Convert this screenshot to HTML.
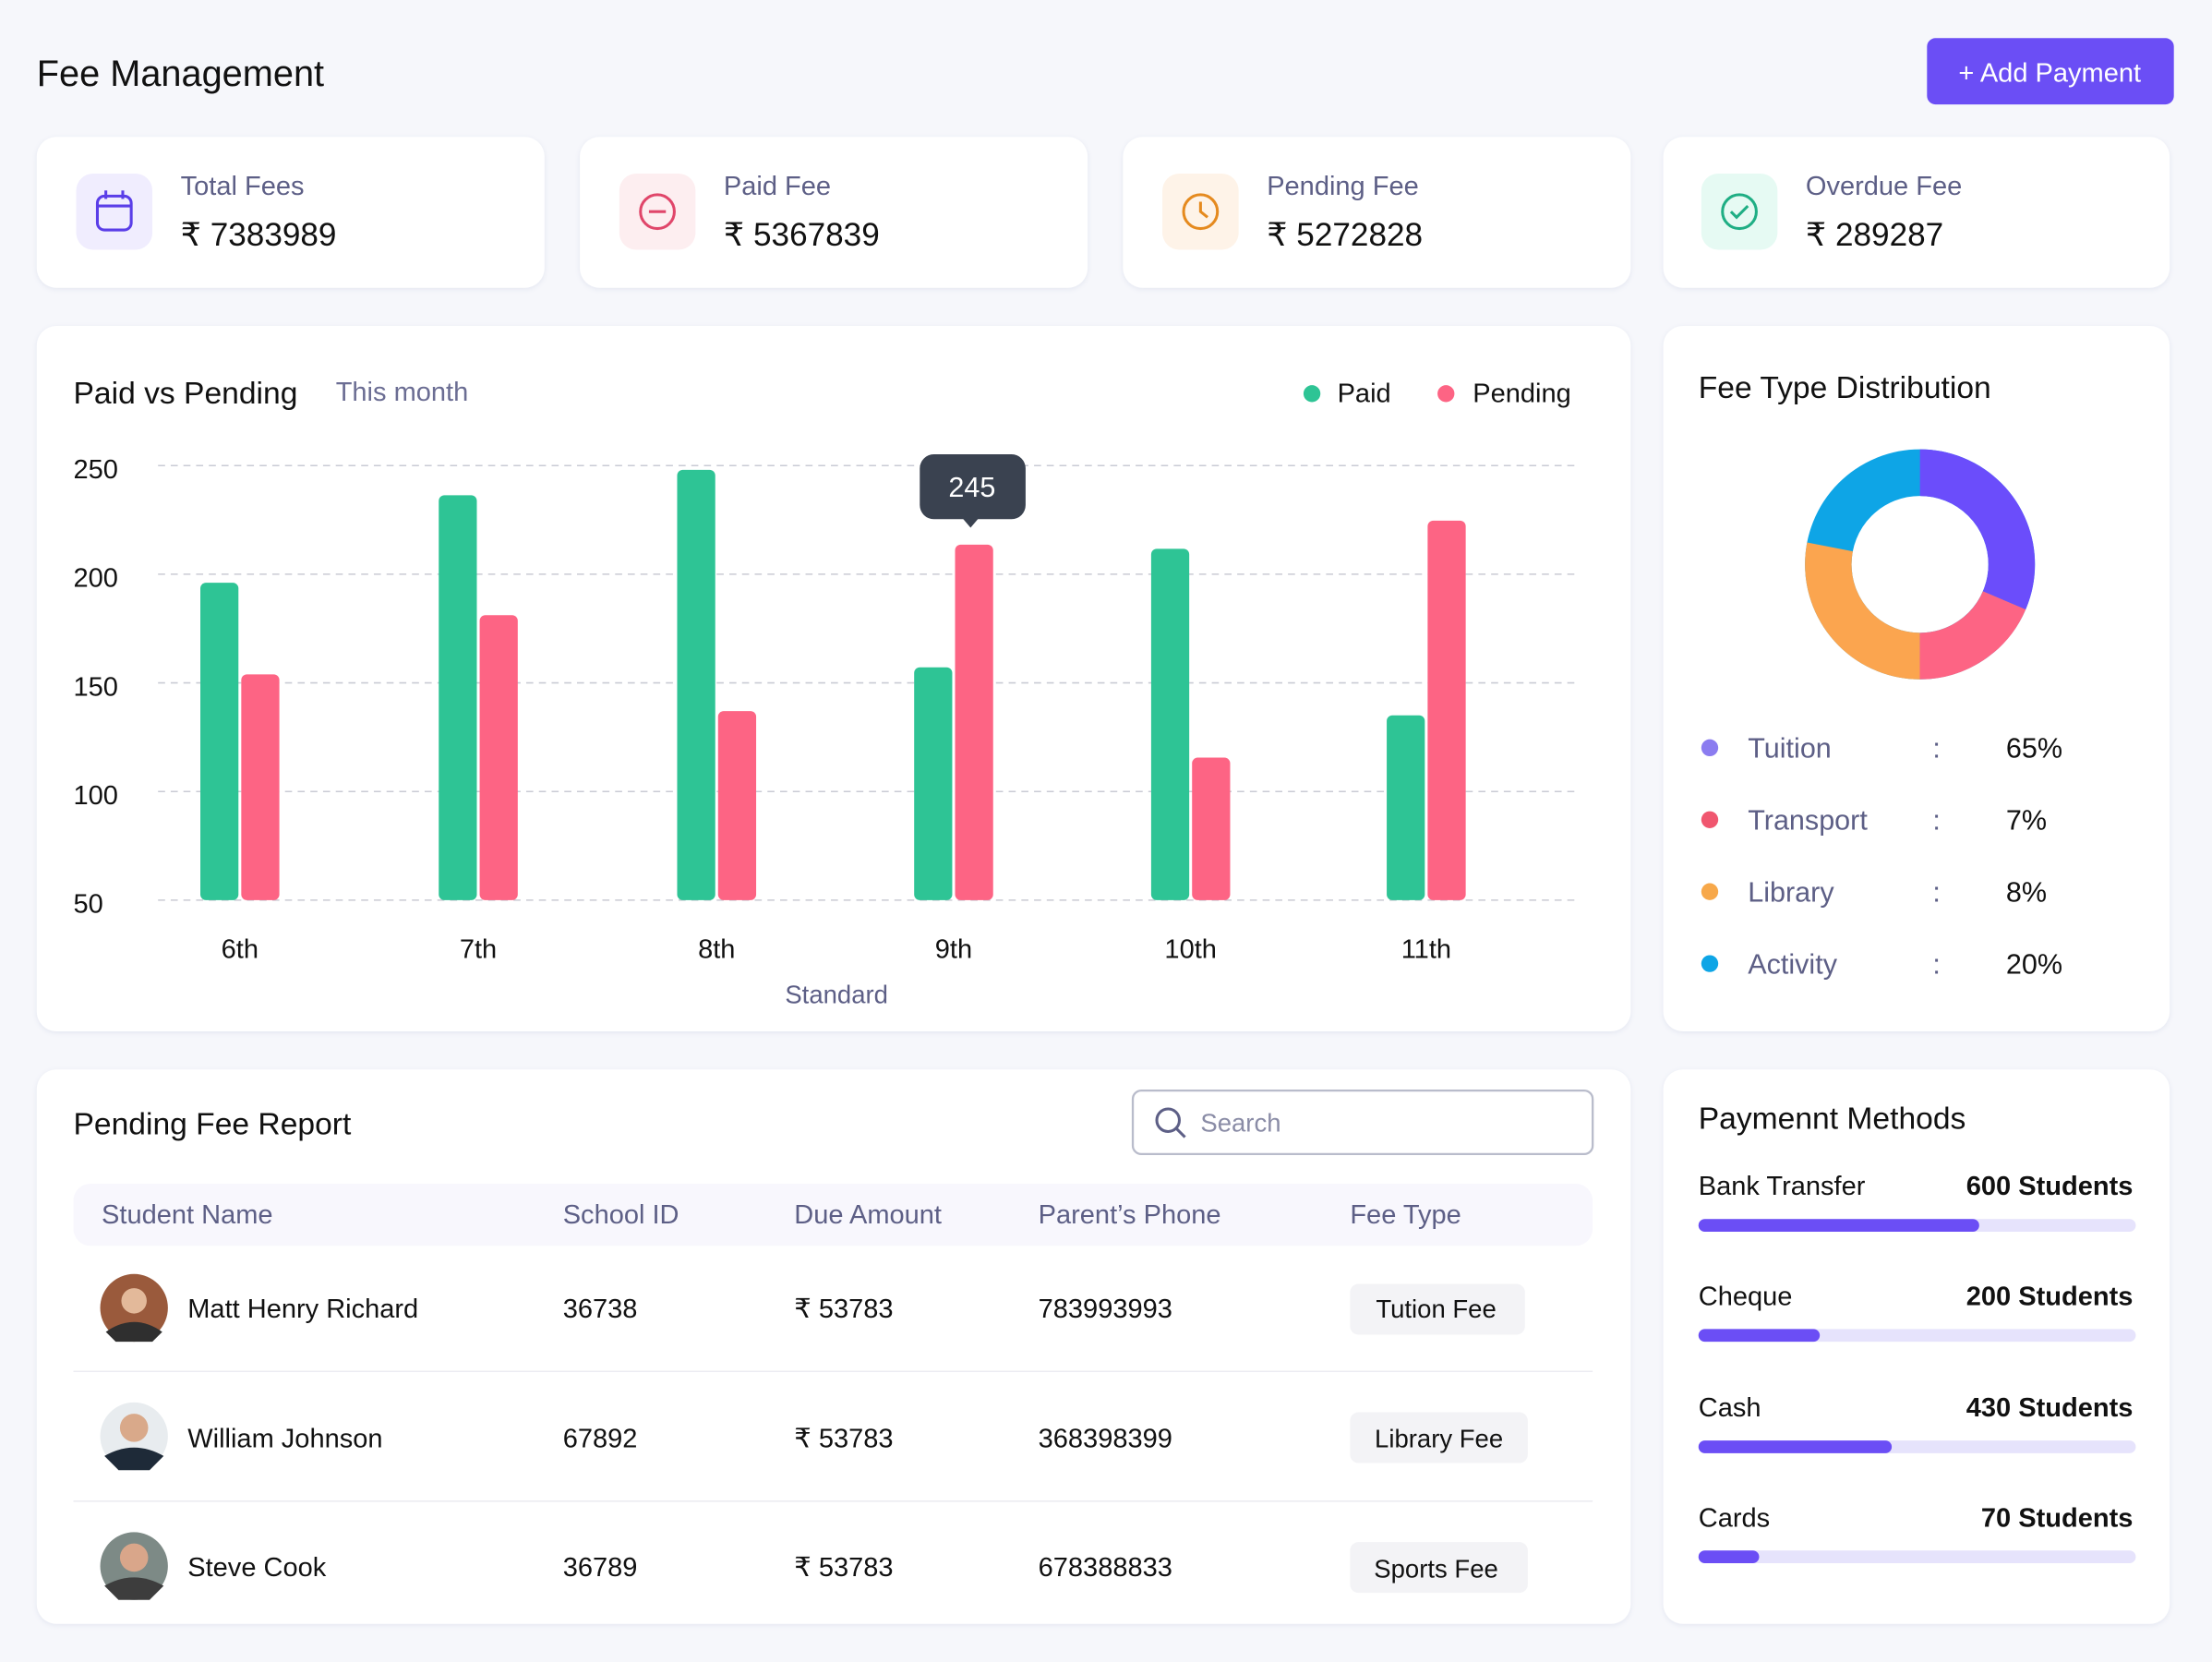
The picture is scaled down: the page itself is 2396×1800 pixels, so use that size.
<!DOCTYPE html>
<html><head><meta charset="utf-8"><style>
html,body{margin:0;padding:0;background:#f6f7fb;width:2396px;height:1800px;overflow:hidden}
svg{display:block;font-family:"Liberation Sans",sans-serif}
</style></head><body>
<svg width="2396" height="1800" viewBox="0 0 1568 1178" xmlns="http://www.w3.org/2000/svg">
<defs><filter id="sh" x="-5%" y="-5%" width="110%" height="110%"><feDropShadow dx="0" dy="1" stdDeviation="2" flood-color="#dfe2ee" flood-opacity="0.8"/></filter></defs>
<rect width="1568" height="1178" fill="#f6f7fb"/>
<text x="26" y="61" font-size="26" fill="#111">Fee Management</text>
<rect x="1366" y="27" width="175" height="47" rx="6" fill="#6b4ef5"/>
<text x="1453" y="58" font-size="19" fill="#fff" text-anchor="middle">+ Add Payment</text>

<!-- stat cards -->
<g filter="url(#sh)" fill="#fff">
<rect x="26" y="97" width="360" height="107" rx="14"/>
<rect x="411" y="97" width="360" height="107" rx="14"/>
<rect x="796" y="97" width="360" height="107" rx="14"/>
<rect x="1179" y="97" width="359" height="107" rx="14"/>
<rect x="26" y="231" width="1130" height="500" rx="14"/>
<rect x="1179" y="231" width="359" height="500" rx="14"/>
<rect x="26" y="758" width="1130" height="393" rx="14"/>
<rect x="1179" y="758" width="359" height="393" rx="14"/>
</g>
<rect x="54" y="123" width="54" height="54" rx="12" fill="#f0edfe"/>
<rect x="69" y="139" width="24" height="24" rx="5" fill="none" stroke="#5a3ee8" stroke-width="2"/>
<line x1="69" y1="146" x2="93" y2="146" stroke="#5a3ee8" stroke-width="2"/>
<line x1="75" y1="135" x2="75" y2="141" stroke="#5a3ee8" stroke-width="2"/><line x1="87" y1="135" x2="87" y2="141" stroke="#5a3ee8" stroke-width="2"/>
<rect x="439" y="123" width="54" height="54" rx="12" fill="#fdeef0"/>
<circle cx="466" cy="150" r="12" fill="none" stroke="#e0466a" stroke-width="2"/><line x1="460" y1="150" x2="472" y2="150" stroke="#e0466a" stroke-width="2"/>
<rect x="824" y="123" width="54" height="54" rx="12" fill="#fef3e8"/>
<circle cx="851" cy="150" r="12" fill="none" stroke="#e58a1f" stroke-width="2"/><path d="M851 143v7l5 4" fill="none" stroke="#e58a1f" stroke-width="2"/>
<rect x="1206" y="123" width="54" height="54" rx="12" fill="#e6faf3"/>
<circle cx="1233" cy="150" r="12" fill="none" stroke="#1fae84" stroke-width="2"/><path d="M1227 150l4 4 8-8" fill="none" stroke="#1fae84" stroke-width="2"/>
<g font-size="19" fill="#5d5f86">
<text x="128" y="138">Total Fees</text><text x="513" y="138">Paid Fee</text><text x="898" y="138">Pending Fee</text><text x="1280" y="138">Overdue Fee</text>
</g>
<g font-size="23" fill="#111">
<text x="128" y="174">₹ 7383989</text><text x="513" y="174">₹ 5367839</text><text x="898" y="174">₹ 5272828</text><text x="1280" y="174">₹ 289287</text>
</g>

<!-- chart -->
<text x="52" y="286" font-size="22" fill="#111">Paid  vs Pending</text>
<text x="238" y="284" font-size="19" fill="#6b6d93">This month</text>
<circle cx="930" cy="279" r="6" fill="#2ec495"/><text x="948" y="285" font-size="19" fill="#111">Paid</text>
<circle cx="1025" cy="279" r="6" fill="#fd6484"/><text x="1044" y="285" font-size="19" fill="#111">Pending</text>
<g stroke="#c9cbd4" stroke-dasharray="5 4" stroke-width="1">
<line x1="112" y1="330" x2="1118" y2="330"/><line x1="112" y1="407" x2="1118" y2="407"/><line x1="112" y1="484" x2="1118" y2="484"/><line x1="112" y1="561" x2="1118" y2="561"/><line x1="112" y1="638" x2="1118" y2="638"/>
</g>
<g font-size="19" fill="#111">
<text x="52" y="339">250</text><text x="52" y="416">200</text><text x="52" y="493">150</text><text x="52" y="570">100</text><text x="52" y="647">50</text>
</g>
<g fill="#2ec495">
<rect x="142" y="413" width="27" height="225" rx="4"/>
<rect x="311" y="351" width="27" height="287" rx="4"/>
<rect x="480" y="333" width="27" height="305" rx="4"/>
<rect x="648" y="473" width="27" height="165" rx="4"/>
<rect x="816" y="389" width="27" height="249" rx="4"/>
<rect x="983" y="507" width="27" height="131" rx="4"/>
</g>
<g fill="#fd6484">
<rect x="171" y="478" width="27" height="160" rx="4"/>
<rect x="340" y="436" width="27" height="202" rx="4"/>
<rect x="509" y="504" width="27" height="134" rx="4"/>
<rect x="677" y="386" width="27" height="252" rx="4"/>
<rect x="845" y="537" width="27" height="101" rx="4"/>
<rect x="1012" y="369" width="27" height="269" rx="4"/>
</g>
<g font-size="19" fill="#111" text-anchor="middle">
<text x="170" y="679">6th</text><text x="339" y="679">7th</text><text x="508" y="679">8th</text><text x="676" y="679">9th</text><text x="844" y="679">10th</text><text x="1011" y="679">11th</text>
</g>
<text x="593" y="711" font-size="18" fill="#5d5f86" text-anchor="middle">Standard</text>
<rect x="652" y="322" width="75" height="46" rx="10" fill="#3a4250"/>
<path d="M682 367 L688 374 L694 367Z" fill="#3a4250"/>
<text x="689" y="352" font-size="20" fill="#fff" text-anchor="middle">245</text>

<!-- donut -->
<text x="1204" y="282" font-size="22" fill="#111">Fee Type Distribution</text>
<g transform="rotate(-90 1361 400)" fill="none" stroke-width="33">
<circle cx="1361" cy="400" r="65" stroke="#0ea5e6" stroke-dasharray="408.4 408.4"/>
<circle cx="1361" cy="400" r="65" stroke="#fba54f" stroke-dasharray="0 204.2 114.4 408.4"/>
<circle cx="1361" cy="400" r="65" stroke="#fd6484" stroke-dasharray="0 128.2 76 408.4"/>
<circle cx="1361" cy="400" r="65" stroke="#6b4dfb" stroke-dasharray="128.2 408.4"/>
</g>
<circle cx="1212" cy="530" r="6" fill="#8b7cf0"/><circle cx="1212" cy="581" r="6" fill="#f0566f"/><circle cx="1212" cy="632" r="6" fill="#f7a84a"/><circle cx="1212" cy="683" r="6" fill="#0ea5e6"/>
<g font-size="20" fill="#5d5f86">
<text x="1239" y="537">Tuition</text><text x="1239" y="588">Transport</text><text x="1239" y="639">Library</text><text x="1239" y="690">Activity</text>
</g>
<g font-size="20" fill="#5d5f86"><text x="1370" y="537">:</text><text x="1370" y="588">:</text><text x="1370" y="639">:</text><text x="1370" y="690">:</text></g>
<g font-size="20" fill="#111"><text x="1422" y="537">65%</text><text x="1422" y="588">7%</text><text x="1422" y="639">8%</text><text x="1422" y="690">20%</text></g>

<!-- table -->
<text x="52" y="804" font-size="22" fill="#111">Pending Fee Report</text>
<rect x="803" y="773" width="326" height="45" rx="6" fill="#fff" stroke="#b9bccb" stroke-width="1.5"/>
<circle cx="828" cy="794" r="8" fill="none" stroke="#5d5f86" stroke-width="2"/><line x1="834" y1="800" x2="840" y2="806" stroke="#5d5f86" stroke-width="2"/>
<text x="851" y="802" font-size="18" fill="#8a8ca6">Search</text>
<rect x="52" y="839" width="1077" height="44" rx="12" fill="#f8f7fd"/>
<g font-size="19" fill="#5d5f86">
<text x="72" y="867">Student Name</text><text x="399" y="867">School ID</text><text x="563" y="867">Due Amount</text><text x="736" y="867">Parent’s Phone</text><text x="957" y="867">Fee Type</text>
</g>
<line x1="52" y1="972" x2="1129" y2="972" stroke="#ececf2"/>
<line x1="52" y1="1064" x2="1129" y2="1064" stroke="#ececf2"/>
<circle cx="95" cy="927" r="24" fill="#9a5a3c"/><circle cx="95" cy="922" r="9" fill="#e3b99a"/><path d="M75 944 Q95 930 115 944 L108 951 L82 951Z" fill="#2f2f2f"/>
<circle cx="95" cy="1018" r="24" fill="#e8ecef"/><circle cx="95" cy="1012" r="10" fill="#d9a98a"/><path d="M74 1032 Q95 1020 116 1032 L106 1042 L84 1042Z" fill="#1e2a38"/>
<circle cx="95" cy="1110" r="24" fill="#7d8a86"/><circle cx="95" cy="1104" r="10" fill="#d9a68a"/><path d="M74 1124 Q95 1112 116 1124 L106 1134 L84 1134Z" fill="#3d3d3d"/>
<g font-size="19" fill="#111">
<text x="133" y="934">Matt Henry Richard</text><text x="399" y="934">36738</text><text x="563" y="934">₹ 53783</text><text x="736" y="934">783993993</text>
<text x="133" y="1026">William Johnson</text><text x="399" y="1026">67892</text><text x="563" y="1026">₹ 53783</text><text x="736" y="1026">368398399</text>
<text x="133" y="1117">Steve Cook</text><text x="399" y="1117">36789</text><text x="563" y="1117">₹ 53783</text><text x="736" y="1117">678388833</text>
</g>
<rect x="957" y="910" width="124" height="36" rx="6" fill="#f3f3f6"/>
<rect x="957" y="1001" width="126" height="36" rx="6" fill="#f3f3f6"/>
<rect x="957" y="1093" width="126" height="36" rx="6" fill="#f3f3f6"/>
<g font-size="18" fill="#111" text-anchor="middle">
<text x="1018" y="934">Tution Fee</text><text x="1020" y="1026">Library Fee</text><text x="1018" y="1118">Sports Fee</text>
</g>

<!-- payment methods -->
<text x="1204" y="800" font-size="22" fill="#111">Paymennt Methods</text>
<g font-size="19" fill="#111">
<text x="1204" y="847">Bank Transfer</text><text x="1204" y="925">Cheque</text><text x="1204" y="1004">Cash</text><text x="1204" y="1082">Cards</text>
</g>
<g font-size="19" fill="#111" font-weight="bold" text-anchor="end">
<text x="1512" y="847">600 Students</text><text x="1512" y="925">200 Students</text><text x="1512" y="1004">430 Students</text><text x="1512" y="1082">70 Students</text>
</g>
<g fill="#e6e3fc">
<rect x="1204" y="864" width="310" height="9" rx="4.5"/><rect x="1204" y="942" width="310" height="9" rx="4.5"/><rect x="1204" y="1021" width="310" height="9" rx="4.5"/><rect x="1204" y="1099" width="310" height="9" rx="4.5"/>
</g>
<g fill="#6b4ef5">
<rect x="1204" y="864" width="199" height="9" rx="4.5"/><rect x="1204" y="942" width="86" height="9" rx="4.5"/><rect x="1204" y="1021" width="137" height="9" rx="4.5"/><rect x="1204" y="1099" width="43" height="9" rx="4.5"/>
</g>
</svg>
</body></html>
